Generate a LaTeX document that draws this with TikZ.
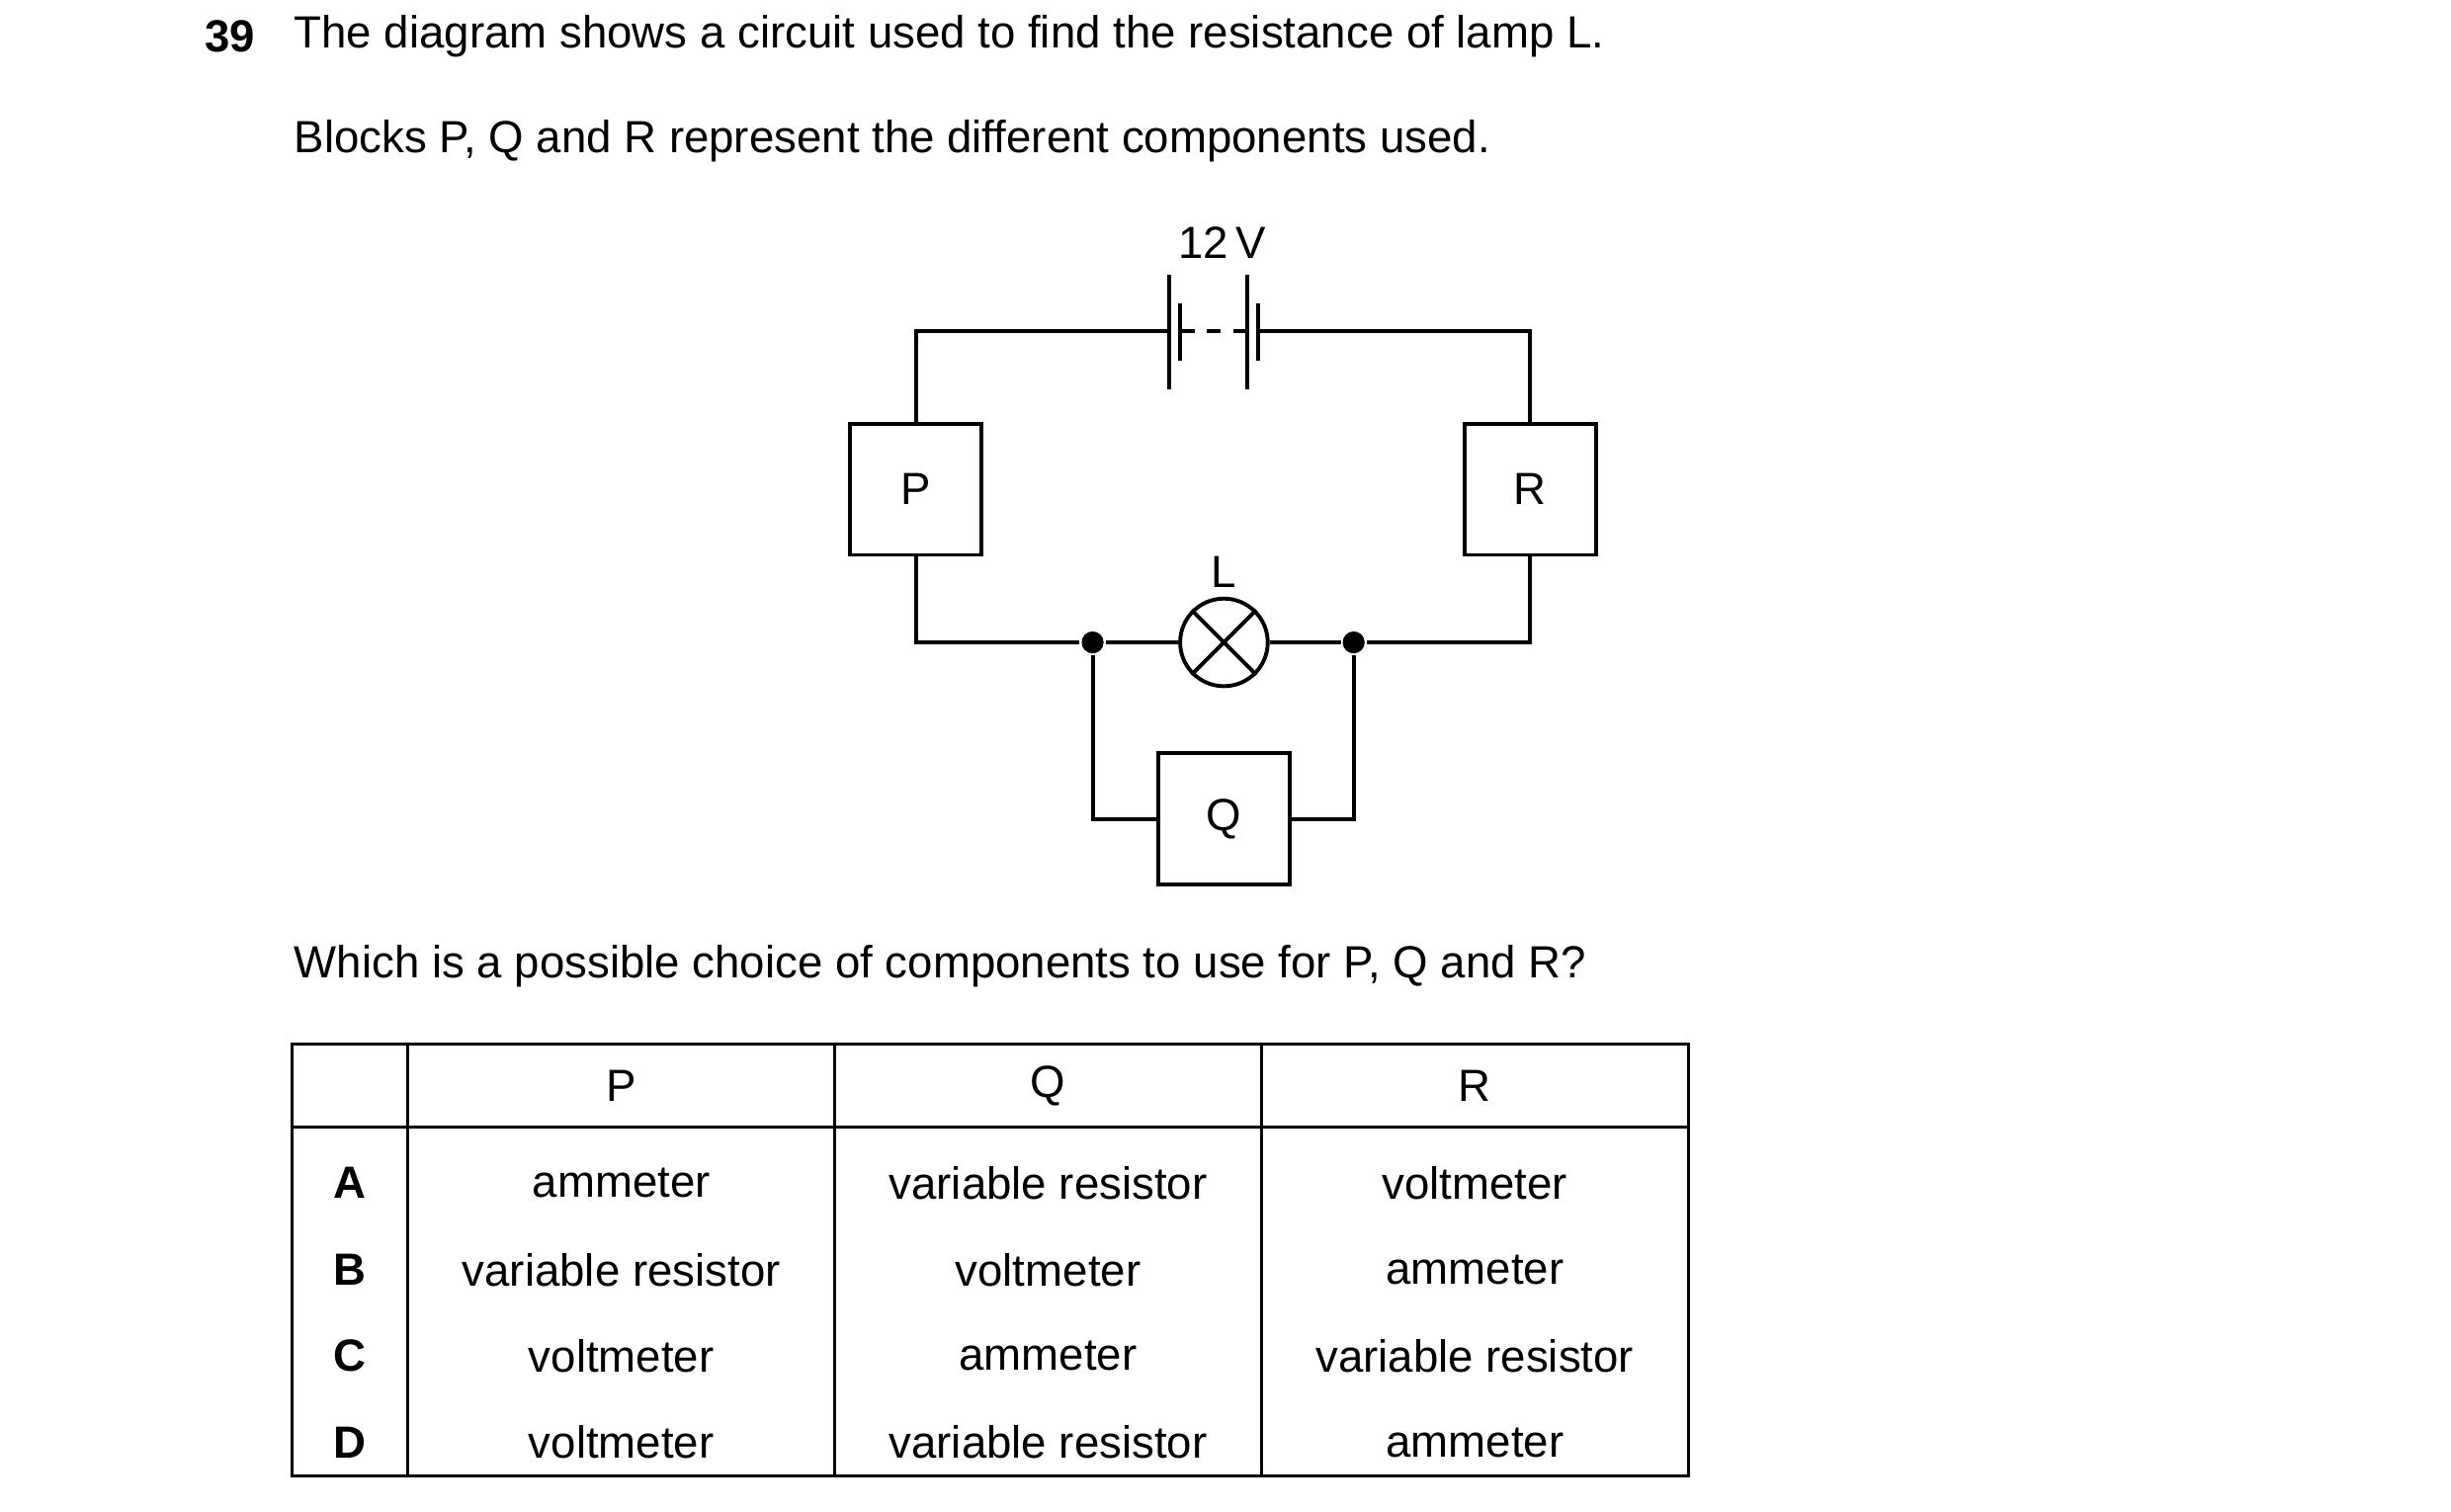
\documentclass[tikz,border=0pt]{standalone}
\usepackage{fontspec}
\setmainfont{Liberation Sans}
\begin{document}
\begin{tikzpicture}[x=0.01cm,y=-0.01cm,line width=0.7pt,
  txt/.style={inner sep=0pt,font=\fontsize{8.2}{10}\selectfont},
  blk/.style={draw,minimum size=0.84cm,inner sep=0pt,font=\fontsize{8.2}{10}\selectfont},
  dot/.style={circle,fill,inner sep=0pt,minimum size=4pt}]
\useasboundingbox (0,-3) rectangle (1568,964);
\node[txt,font=\fontsize{8.2}{10}\selectfont\bfseries,anchor=west] (num) at (130,20) {39};
\node[txt,anchor=west] (t1) at (187,20) {The diagram shows a circuit used to find the resistance of lamp L.};
\node[txt,anchor=west] (t2) at (187,87) {Blocks P, Q and R represent the different components used.};
% circuit
\node[blk] (P) at (586,310) {P};
\node[blk] (R) at (979,310) {R};
\node[blk] (Q) at (783,521) {Q};
\node[draw,circle,minimum size=0.56cm,inner sep=0pt] (L) at (783,408) {};
\draw (L.45) -- (L.225) (L.135) -- (L.315);
\node[txt] (Llab) at (783,363) {L};
\node[txt] (volt) at (782,152) {12\,V};
\node[dot] (j1) at (699,408) {};
\node[dot] (j2) at (866,408) {};
\coordinate (b1) at (748,209);
\coordinate (b2) at (755,209);
\coordinate (b3) at (798,209);
\coordinate (b4) at (805,209);
\draw (b1) -| (P.north) (b4) -| (R.north);
\draw (b1 |- 0,173) -- (b1 |- 0,246) (b3 |- 0,173) -- (b3 |- 0,246);
\draw (b2 |- 0,191) -- (b2 |- 0,228) (b4 |- 0,191) -- (b4 |- 0,228);
\draw[dash pattern=on 2.6pt off 2.2pt] (b2) -- (b3);
\draw (P.south) |- (j1) -- (L) -- (j2) -| (R.south);
\draw (j1) |- (Q.west) (Q.east) -| (j2);
\node[txt,anchor=west] (t3) at (187,615) {Which is a possible choice of components to use for P, Q and R?};
% table
\begin{scope}[line width=0.55pt]
\draw (187,665) rectangle (1080,941);
\draw (187,718) -- (1080,718);
\foreach \x in {261,534,807} \draw (\x,665) -- (\x,941);
\end{scope}
\node[txt] (hP) at (397.5,692) {P};
\node[txt] (hQ) at (670.5,692) {Q};
\node[txt] (hR) at (943.5,692) {R};
\foreach \l/\p/\q/\r [count=\i] in {A/ammeter/variable resistor/voltmeter,
  B/variable resistor/voltmeter/ammeter,
  C/voltmeter/ammeter/variable resistor,
  D/voltmeter/variable resistor/ammeter} {
  \node[txt,font=\fontsize{8.2}{10}\selectfont\bfseries] (row\l) at (224,754+55.3*\i-55.3) {\l};
  \node[txt] (p\l) at (397.5,754+55.3*\i-55.3) {\p};
  \node[txt] (q\l) at (670.5,754+55.3*\i-55.3) {\q};
  \node[txt] (r\l) at (943.5,754+55.3*\i-55.3) {\r};
}
\end{tikzpicture}
\end{document}
